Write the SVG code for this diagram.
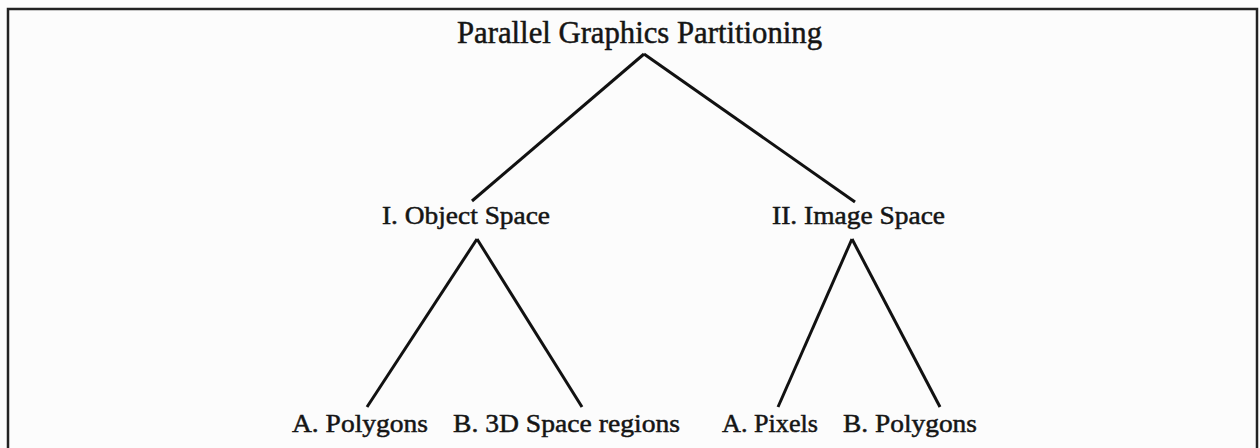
<svg xmlns="http://www.w3.org/2000/svg" width="1260" height="448" viewBox="0 0 1260 448">
<style>
.t{font-family:"Liberation Serif","Times New Roman",serif;fill:#151515;stroke:#151515;stroke-width:0.5;}
.title{font-size:32px;}
.n{font-size:25px;}
.leaf{font-size:26px;}
.c{stroke:#111;stroke-width:3;fill:none;stroke-linecap:butt;}
</style>
<rect x="0" y="0" width="1260" height="448" fill="#fcfcfc"/>
<path d="M8,448 V9 H1257 V448" fill="none" stroke="#222" stroke-width="2.5"/>
<g id="connectors">
<line class="c" x1="644" y1="54" x2="472" y2="201"/>
<line class="c" x1="644" y1="54" x2="855" y2="202"/>
<line class="c" x1="477" y1="239" x2="367" y2="407"/>
<line class="c" x1="477" y1="239" x2="582" y2="407"/>
<line class="c" x1="852" y1="239" x2="778" y2="407"/>
<line class="c" x1="852" y1="239" x2="940" y2="407"/>
</g>
<g id="root"><text class="t title" x="457" y="43" textLength="365" lengthAdjust="spacingAndGlyphs">Parallel Graphics Partitioning</text></g>
<g id="object-space"><text class="t n" x="382" y="224" textLength="168" lengthAdjust="spacingAndGlyphs">I. Object Space</text></g>
<g id="image-space"><text class="t n" x="772" y="224" textLength="173" lengthAdjust="spacingAndGlyphs">II. Image Space</text></g>
<g id="obj-polygons"><text class="t leaf" x="292" y="432" textLength="136" lengthAdjust="spacingAndGlyphs">A. Polygons</text></g>
<g id="obj-3d-regions"><text class="t leaf" x="453" y="432" textLength="227" lengthAdjust="spacingAndGlyphs">B. 3D Space regions</text></g>
<g id="img-pixels"><text class="t leaf" x="722" y="432" textLength="96" lengthAdjust="spacingAndGlyphs">A. Pixels</text></g>
<g id="img-polygons"><text class="t leaf" x="843" y="432" textLength="134" lengthAdjust="spacingAndGlyphs">B. Polygons</text></g>
</svg>
